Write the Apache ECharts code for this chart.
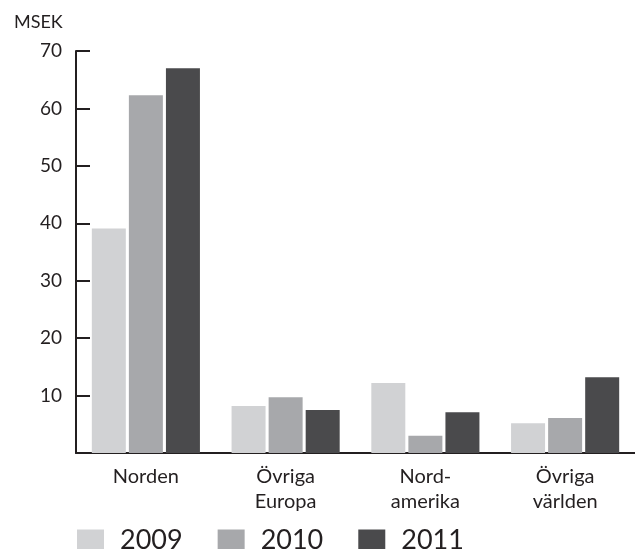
<!DOCTYPE html>
<html><head><meta charset="utf-8">
<script src="https://cdn.jsdelivr.net/npm/echarts@6/dist/echarts.min.js"></script>
<style>html,body{margin:0;padding:0;background:#fff}#c{width:635px;height:549px}</style>
</head><body><div id="c"></div>
<script>
const categories = ['Norden', 'Övriga\nEuropa', 'Nord-\namerika', 'Övriga\nvärlden'];
const years = ['2009', '2010', '2011'];
const values2009 = [39.1, 8.2, 12.2, 5.2];
const values2010 = [62.3, 9.7, 3.0, 6.1];
const values2011 = [67.0, 7.5, 7.1, 13.2];
const yTicks = [0, 10, 20, 30, 40, 50, 60, 70];
const colors = ['#d1d2d4', '#a7a8ab', '#4a4a4c'];
const font = 'Lato';
const chart = echarts.init(document.getElementById('c'));
chart.setOption({
  animation: false,
  textStyle: {fontFamily: font, color: '#231f20'},
  title: {text: 'MSEK', left: 9, top: 8, textStyle: {fontFamily: font, fontSize: 18, fontWeight: 'normal', color: '#231f20'}},
  legend: {
    data: years, left: 77, top: 527, itemWidth: 27, itemHeight: 22, itemGap: 35, padding: 0,
    icon: 'rect', textStyle: {fontFamily: font, fontSize: 27, lineHeight: 22, color: '#231f20', padding: [0, 0, 0, 11]}
  },
  grid: {left: 76, right: 0, top: 51, bottom: 96, containLabel: false},
  xAxis: {
    type: 'category', data: categories,
    axisLine: {lineStyle: {color: '#231f20', width: 2}},
    axisTick: {show: false},
    axisLabel: {fontFamily: font, fontSize: 20, color: '#231f20', margin: 11, lineHeight: 25}
  },
  yAxis: {
    type: 'value', min: yTicks[0], max: yTicks[yTicks.length - 1], interval: 10,
    axisLine: {show: true, lineStyle: {color: '#231f20', width: 2}},
    axisTick: {show: true, inside: true, length: 14, lineStyle: {color: '#231f20', width: 2}},
    splitLine: {show: false},
    axisLabel: {fontFamily: font, fontSize: 19, color: '#231f20', margin: 14, showMinLabel: false}
  },
  series: [
    {name: years[0], type: 'bar', data: values2009, itemStyle: {color: colors[0]}, barWidth: 34, barGap: '9%', z: 1},
    {name: years[1], type: 'bar', data: values2010, itemStyle: {color: colors[1]}, barWidth: 34, barGap: '9%', z: 1},
    {name: years[2], type: 'bar', data: values2011, itemStyle: {color: colors[2]}, barWidth: 34, barGap: '9%', z: 1}
  ]
});
</script></body></html>
